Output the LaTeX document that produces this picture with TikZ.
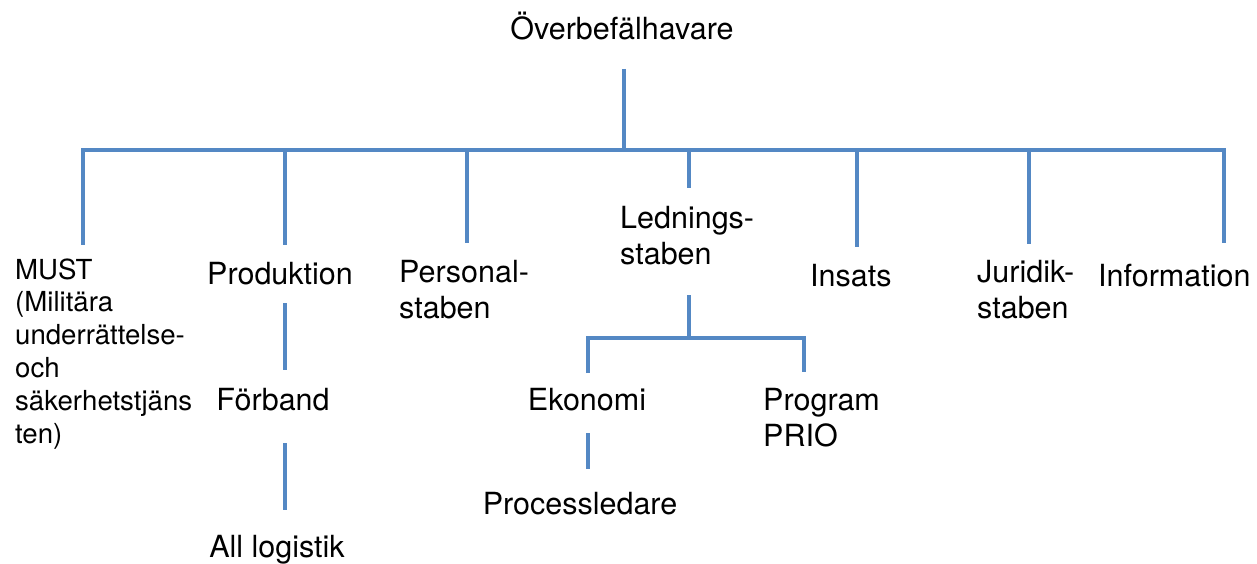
\documentclass[tikz,border=0pt]{standalone}
\usepackage{fontspec}
\usepackage{tikz}
\setmainfont{TeX Gyre Heros}
\definecolor{orgblue}{RGB}{84,136,196}

\tikzset{
    link/.style={orgblue,line width=3.2pt},
    unit/.style={inner sep=0pt,font=\fontsize{30.5}{36}\selectfont},
    unitsmall/.style={inner sep=0pt,font=\fontsize{27.6}{32.8}\selectfont},
}

\begin{document}
\begin{tikzpicture}[x=1pt,y=-1pt]
    \useasboundingbox (0,0) rectangle (1257,564);
    % units (multi-line nodes sit on their last baseline)
    \node[unit,anchor=base] (ob) at (622,40) {Överbefälhavare};
    \node[unitsmall,anchor=base west,align=left] (must) at (15,443) {MUST\\(Militära\\underrättelse-\\och\\säkerhetstjäns\\ten)};
    \node[unit,anchor=base] (prod) at (280,284) {Produktion};
    \node[unit,anchor=base] (forb) at (273,410) {Förband};
    \node[unit,anchor=base] (logi) at (277,557) {All logistik};
    \node[unit,anchor=base west,align=left] (pers) at (399,318) {Personal-\\staben};
    \node[unit,anchor=base west,align=left] (led) at (620,264) {Lednings-\\staben};
    \node[unit,anchor=base west] (ins) at (810,286) {Insats};
    \node[unit,anchor=base west,align=left] (jur) at (977,318) {Juridik-\\staben};
    \node[unit,anchor=base west] (info) at (1098,286) {Information};
    \node[unit,anchor=base] (eko) at (587,410) {Ekonomi};
    \node[unit,anchor=base west,align=left] (prog) at (763,446) {Program\\PRIO};
    \node[unit,anchor=base] (proc) at (580,514) {Processledare};
    % main bus
    \coordinate (top) at (624,69);
    \coordinate (hub) at (624,150);
    \coordinate (busL) at (83,150);
    \coordinate (busR) at (1224,150);
    \draw[link] (top) -- (hub);
    \draw[link,line cap=rect] (busL) -- (busR);
    \foreach \name/\x/\y in {must/83/245,prod/285/245,pers/467/243,led/689/188,ins/857/247,jur/1029/244,info/1224/243} {
        \coordinate (\name-a) at (\x,150);
        \coordinate (\name-b) at (\x,\y);
        \draw[link] (\name-a) -- (\name-b);
    }
    % Produktion chain
    \coordinate (prod-c) at (285,303);
    \coordinate (forb-a) at (285,370);
    \coordinate (forb-c) at (285,443);
    \coordinate (logi-a) at (285,510);
    \draw[link] (prod-c) -- (forb-a);
    \draw[link] (forb-c) -- (logi-a);
    % Ledningsstaben sub tree
    \coordinate (led-c) at (689,295);
    \coordinate (led-hub) at (689,338);
    \coordinate (eko-a) at (588,338);
    \coordinate (eko-b) at (588,373);
    \coordinate (prog-a) at (804,338);
    \coordinate (prog-b) at (804,372);
    \draw[link] (led-c) -- (led-hub);
    \draw[link] (eko-b) -- (eko-a) -- (prog-a) -- (prog-b);
    \coordinate (eko-c) at (588,433);
    \coordinate (proc-a) at (588,469);
    \draw[link] (eko-c) -- (proc-a);
\end{tikzpicture}
\end{document}
